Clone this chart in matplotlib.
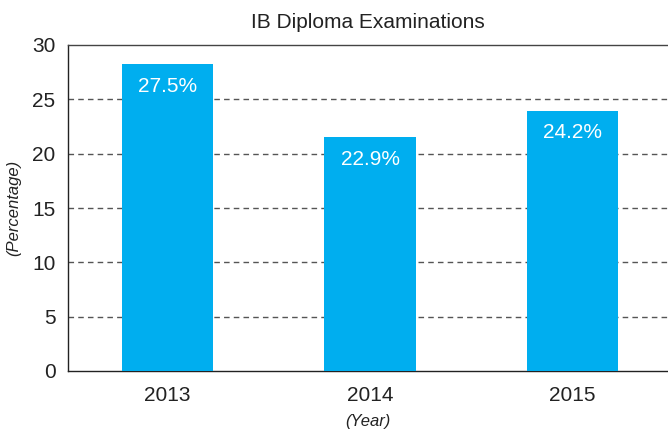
import numpy as np
import matplotlib.pyplot as plt

years = ["2013", "2014", "2015"]
bar_heights = [28.25, 21.55, 23.95]
bar_labels = ["27.5%", "22.9%", "24.2%"]
y_ticks = [0, 5, 10, 15, 20, 25, 30]

BLUE = "#00AEEF"
GRID = "#555555"

plt.rcParams["font.family"] = ["Liberation Sans", "DejaVu Sans"]

fig = plt.figure(figsize=(6.68, 4.38), dpi=100)
ax = fig.add_axes([68 / 668, 1 - 371 / 438, 1 - 68 / 668, (371 - 45) / 438])

x = np.arange(len(years))
bars = ax.bar(x, bar_heights, width=0.45, color=BLUE, zorder=3)

for rect, label in zip(bars, bar_labels):
    ax.annotate(
        label,
        xy=(rect.get_x() + rect.get_width() / 2, rect.get_height()),
        xytext=(0, -16),
        textcoords="offset points",
        ha="center",
        va="center",
        color="white",
        fontsize=15,
        zorder=4,
    )

ax.set_xlim(-0.49, 2.47)
ax.set_ylim(0, 30)
ax.set_yticks(y_ticks)
ax.set_xticks(x)
ax.set_xticklabels(years)
ax.tick_params(axis="both", length=0, labelsize=15, colors="#222222")
ax.tick_params(axis="y", pad=9)
ax.tick_params(axis="x", pad=11)

for val in y_ticks[1:-1]:
    ax.axhline(val, color=GRID, linestyle=(0, (4, 3)), linewidth=1.0, zorder=1)

ax.spines["right"].set_visible(False)
ax.spines["top"].set_color("#444444")
ax.spines["left"].set_color("#222222")
ax.spines["bottom"].set_color("#222222")
for s in ax.spines.values():
    s.set_linewidth(1.0)

ax.set_title("IB Diploma Examinations", fontsize=15, color="#222222", pad=12)
ax.set_ylabel("(Percentage)", fontsize=12, style="italic", color="#222222", labelpad=8)
ax.set_xlabel("(Year)", fontsize=12, style="italic", color="#222222", labelpad=6)

fig.savefig("out.png", dpi=100)
